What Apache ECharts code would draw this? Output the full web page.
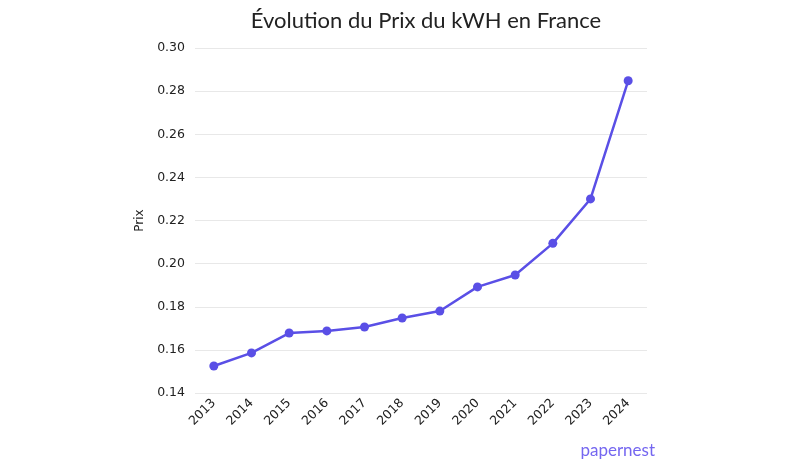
<!DOCTYPE html>
<html>
<head>
<meta charset="utf-8">
<script src="https://cdn.jsdelivr.net/npm/echarts@6/dist/echarts.min.js"></script>
<style>html,body{margin:0;padding:0;background:#fff}#c{width:800px;height:467px}</style>
</head>
<body>
<div id="c"></div>
<script>
const years = ['2013','2014','2015','2016','2017','2018','2019','2020','2021','2022','2023','2024'];
const prices = [0.1525,0.1586,0.1678,0.1688,0.1706,0.1748,0.1780,0.1892,0.1947,0.2094,0.2300,0.2848];
const chart = echarts.init(document.getElementById('c'));
chart.setOption({
  animation:false,
  backgroundColor:'#fff',
  title:{text:'Évolution du Prix du kWH en France',left:421,textAlign:'center',top:5,
    textStyle:{fontFamily:'Lato',fontSize:22,fontWeight:'normal',color:'#222'}},
  grid:{left:195,right:153,top:48,bottom:74},
  xAxis:{type:'category',data:years,boundaryGap:true,
    axisLine:{show:false},axisTick:{show:false},
    axisLabel:{rotate:45,fontFamily:'DejaVu Sans',fontSize:12.5,color:'#222',margin:8}},
  yAxis:{type:'value',min:0.14,max:0.30,interval:0.02,name:'Prix',nameLocation:'middle',nameGap:48,
    nameTextStyle:{fontFamily:'DejaVu Sans',fontSize:12,color:'#222'},
    axisLine:{show:false},axisTick:{show:false},
    axisLabel:{formatter:v=>v.toFixed(2),fontFamily:'DejaVu Sans',fontSize:12.5,color:'#222',margin:10},
    splitLine:{lineStyle:{color:'#e8e8e8',width:1}}},
  graphic:[{type:'text',right:145,top:442,style:{text:'papernest',fill:'#7466f0',font:'17px Lato'}}],
  series:[{type:'line',data:prices,symbol:'circle',symbolSize:9,
    lineStyle:{color:'#5a4fe6',width:2.5},itemStyle:{color:'#5a4fe6'}}]
});
</script>
</body>
</html>
